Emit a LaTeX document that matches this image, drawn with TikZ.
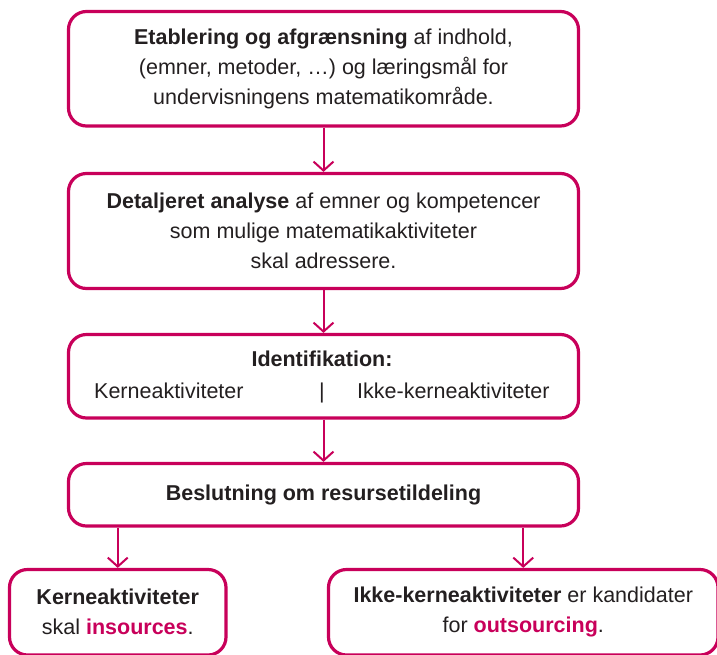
\documentclass[tikz,border=0pt]{standalone}
\usepackage{fontspec}
\setmainfont{Liberation Sans}
\usetikzlibrary{arrows.meta}
\definecolor{mag}{RGB}{200,0,90}
\definecolor{txt}{RGB}{35,31,32}
\begin{document}
\begin{tikzpicture}[x=1pt,y=-1pt,
 box/.style={draw=mag,line width=3.2pt,rounded corners=18pt,inner sep=0pt,align=center,text=txt,font=\fontsize{21.5}{30}\selectfont},
 lbl/.style={text=txt,inner sep=0pt,font=\fontsize{21.5}{30}\selectfont},
 conn/.style={draw=mag,line width=2pt,-{Straight Barb[length=9pt,width=20pt]}}]
\useasboundingbox (0,0) rectangle (717,654);
\node[box,minimum width=510pt,minimum height=114.5pt] (b1) at (323.5,68.75)
 {\textbf{Etablering og afgrænsning} af indhold,\\(emner, metoder, …) og læringsmål for\\undervisningens matematikområde.};
\node[box,minimum width=510pt,minimum height=115pt] (b2) at (323.5,231)
 {\textbf{Detaljeret analyse} af emner og kompetencer\\som mulige matematikaktiviteter\\skal adressere.};
\node[box,minimum width=510pt,minimum height=83.5pt] (b3) at (323.5,376.25) {};
\node[lbl,anchor=base] (id) at (322,366) {\textbf{Identifikation:}};
\node[lbl,anchor=base west] (k1) at (94,398) {Kerneaktiviteter};
\node[lbl,anchor=base] (bar) at (322,398) {|};
\node[lbl,anchor=base west] (k2) at (357,398) {Ikke-kerneaktiviteter};
\node[box,minimum width=510pt,minimum height=62.5pt] (b4) at (323.5,494.75)
 {\textbf{Beslutning om resursetildeling}};
\node[box,minimum width=216.5pt,minimum height=85.5pt] (b5) at (117.75,612.25)
 {\textbf{Kerneaktiviteter}\\skal \textbf{\color{mag}insources}.};
\node[box,minimum width=389.5pt,minimum height=85.5pt] (b6) at (523.25,612.25)
 {\textbf{Ikke-kerneaktiviteter} er kandidater\\for \textbf{\color{mag}outsourcing}.};
\draw[conn] (b1.south) -- (b2.north);
\draw[conn] (b2.south) -- (b3.north);
\draw[conn] (b3.south) -- (b4.north);
\draw[conn] (b4.south -| b5.north) -- (b5.north);
\draw[conn] (b4.south -| b6.north) -- (b6.north);
\end{tikzpicture}
\end{document}
